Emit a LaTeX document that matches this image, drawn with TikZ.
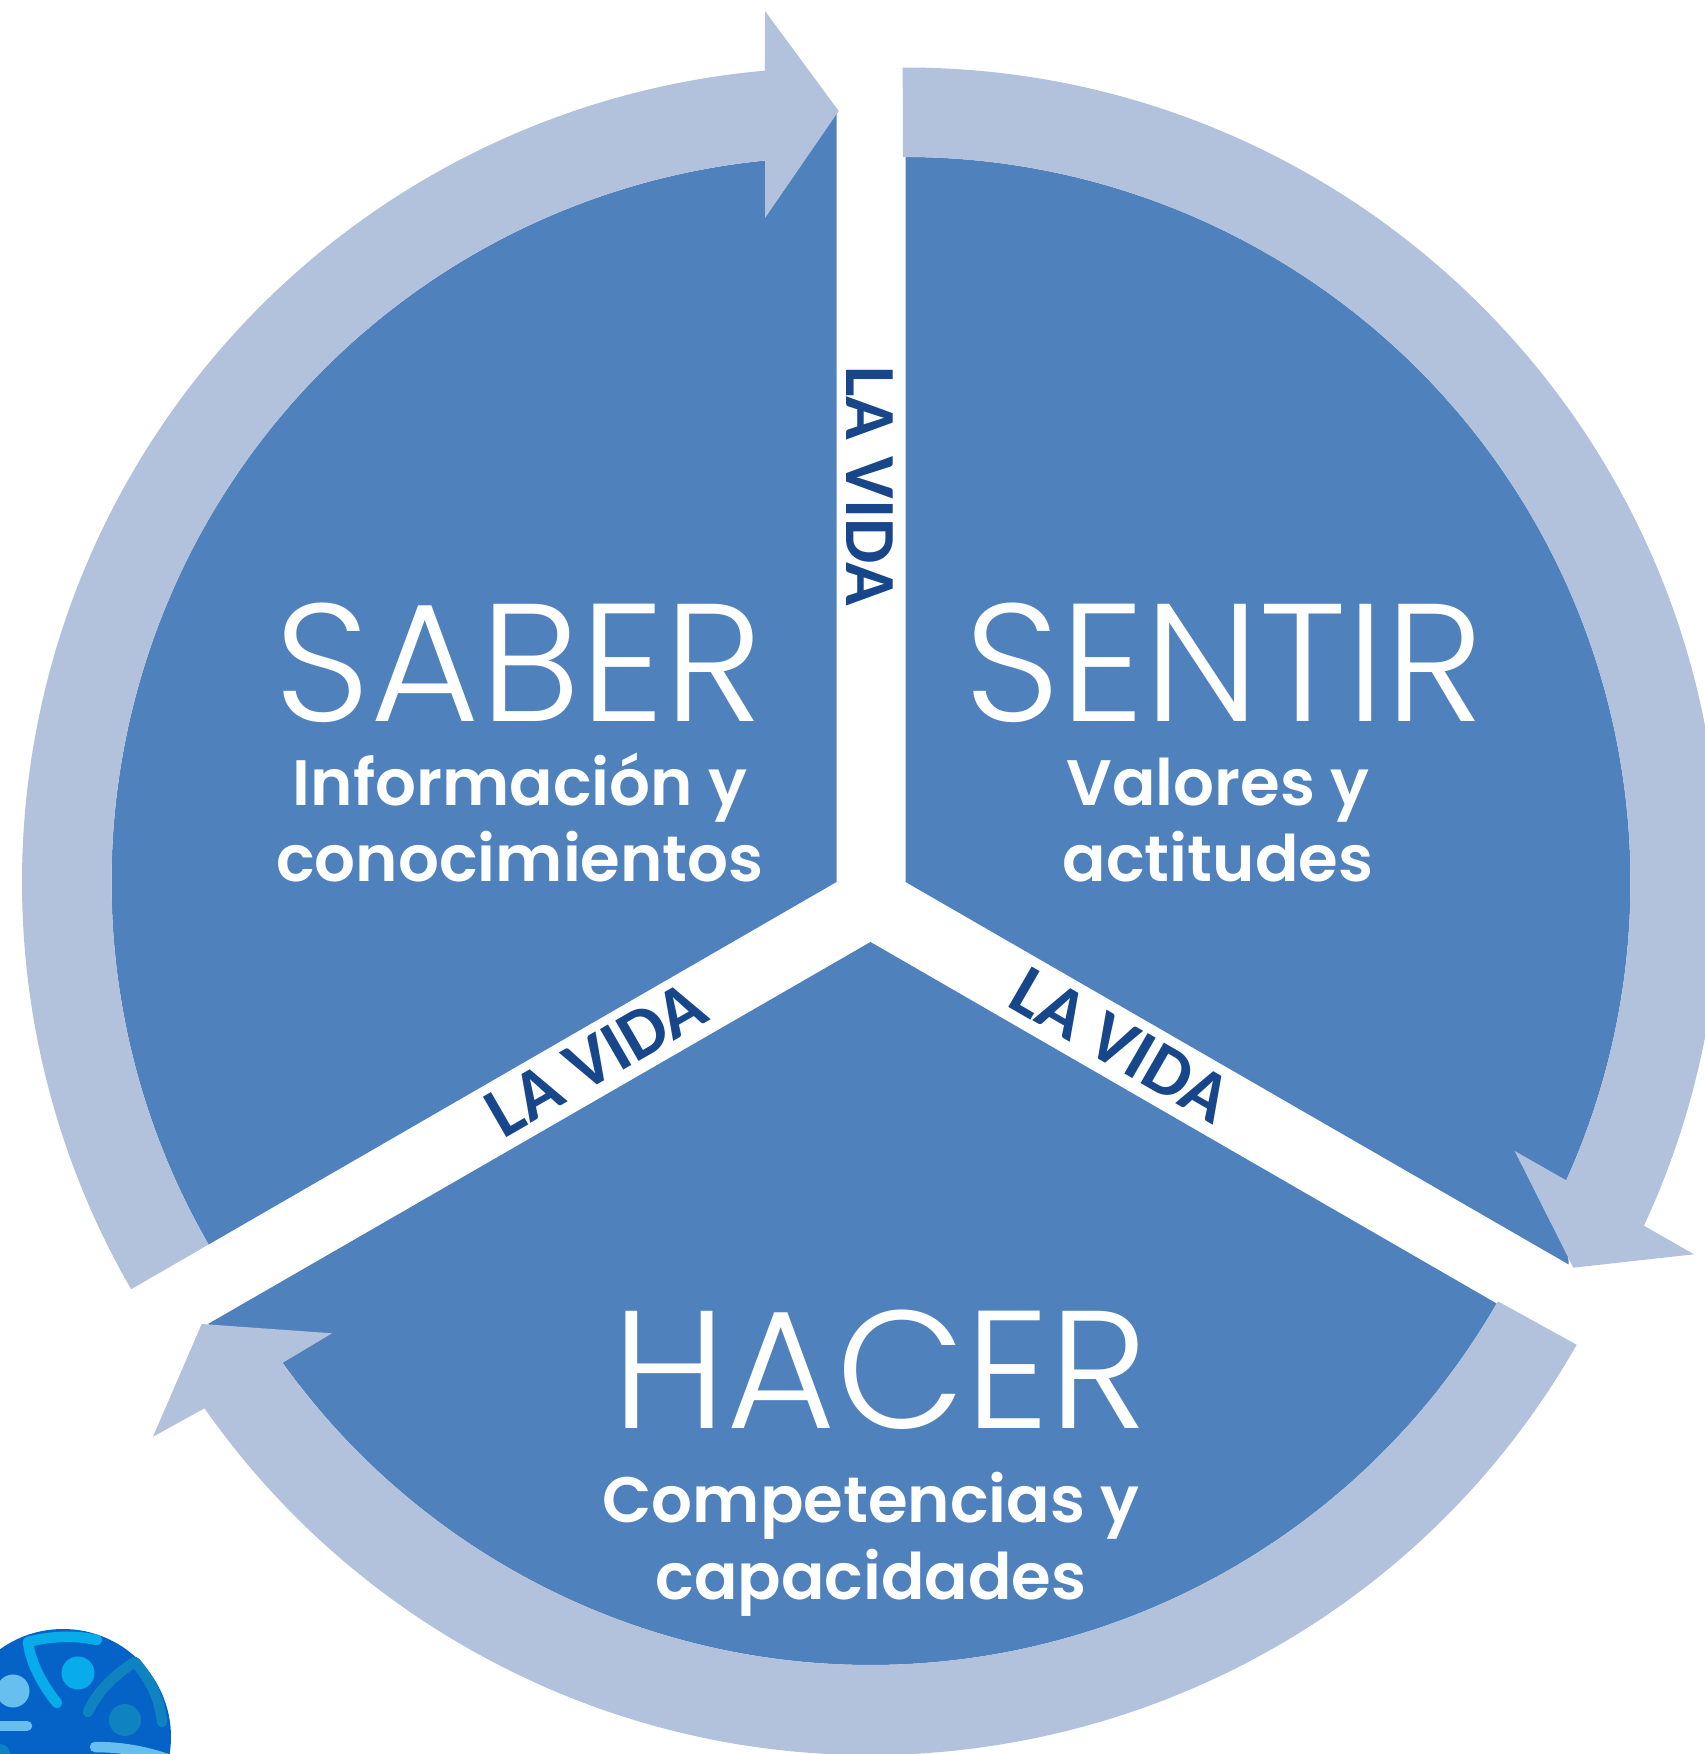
\documentclass[tikz,border=0pt]{standalone}
\usepackage{fontspec}
\setmainfont{Poppins}
\newfontfamily\popl{Poppins Light}
\newfontfamily\pops{Poppins SemiBold}
\newfontfamily\vida{Carlito}
\definecolor{wedge}{HTML}{4F81BD}
\definecolor{band}{HTML}{B2C1DC}
\definecolor{vidac}{HTML}{17478A}
\definecolor{logob}{HTML}{0563C8}
\definecolor{logoc}{HTML}{08ACEB}
\definecolor{logot}{HTML}{0F83C0}
\definecolor{logop}{HTML}{66BFEF}
\tikzset{
  sector/.style={fill=wedge,draw=none},
  ringarrow/.style={fill=band,draw=none},
  bigtext/.style={text=white,anchor=base,inner sep=0pt,font=\popl\fontsize{167.7}{167.7}\selectfont},
  subtext/.style={text=white,anchor=base,inner sep=0pt,font=\pops\fontsize{64.2}{64.2}\selectfont},
  lavida/.style={text=vidac,inner sep=0pt,font=\vida\bfseries\fontsize{72}{72}\selectfont},
  logoline/.style={line width=10.5pt,line cap=round,line join=round}
}
\begin{document}
\begin{tikzpicture}[x=1pt,y=1pt]
\useasboundingbox (0,0) rectangle (1705,1754);
\clip (0,0) rectangle (1705,1754);
\coordinate (cs) at (836.5,872);
\coordinate (ct) at (905.5,872);
\coordinate (ch) at (870.5,812);
% dark sectors
\fill[sector] (cs) -- ([shift={(cs)}]210:725) arc[start angle=210,end angle=95.65,radius=725] -- (836.5,1643) -- cycle;
\fill[sector] (ct) -- ([shift={(ct)}]90:725) arc[start angle=90,end angle=-24.6,radius=725] -- (1568.7,489.5) -- cycle;
\fill[sector] (ch) -- ([shift={(ch)}]-30:723) arc[start angle=-30,end angle=-144.4,radius=723] -- (208,430) -- cycle;
% ring arrows
\fill[ringarrow] ([shift={(cs)}]210:814.5) arc[start angle=210,end angle=95.04,radius=814.5]
  -- (765,1743) -- (838.7,1643) -- (765,1536)
  -- ([shift={(cs)}]95.65:725) arc[start angle=95.65,end angle=210,radius=725] -- cycle;
\fill[ringarrow] ([shift={(ct)}]90.2:814.5) arc[start angle=90.2,end angle=-24.96,radius=814.5]
  -- (1694,499.7) -- (1573.3,486.3) -- (1514.7,603)
  -- ([shift={(ct)}]-24.3:725) arc[start angle=-24.3,end angle=90.2,radius=725] -- cycle;
\fill[ringarrow] ([shift={(ch)}]-29.7:813) arc[start angle=-29.7,end angle=-145,radius=813]
  -- (153,317.3) -- (201.7,430) -- (332,420.7)
  -- ([shift={(ch)}]-144.4:723) arc[start angle=-144.4,end angle=-29.8,radius=723] -- cycle;
% logo
\fill[logob] (63,17) circle[radius=108];
\fill[logoc] (78,81) circle[radius=16.5];
\draw[logoline,logoc] (97,114) .. controls (75,119) and (50,118) .. (28,112) .. controls (31,90) and (42,70) .. (57,51);
\fill[logot] (125,34) circle[radius=16];
\fill[logot] (0,0) circle[radius=10];
\draw[logoline,logot] (88,42) .. controls (97,62) and (115,80) .. (135,92) .. controls (150,75) and (160,55) .. (162,32);
\fill[logop] (13,63) circle[radius=16.5];
\draw[logoline,logop] (0,28) -- (27,28);
\draw[logoline,logop] (95,7) .. controls (120,7) and (145,3) .. (170,-6);
% texts
\node[bigtext] (saber) at (519,1032) {SABER};
\node[bigtext] (sentir) at (1224,1032) {SENTIR};
\node[bigtext] (hacer) at (880.5,325) {HACER};
\node[subtext] (s1) at (520,948) {Información y};
\node[subtext] (s2) at (520,872) {conocimientos};
\node[subtext] (t1) at (1218,948) {Valores y};
\node[subtext] (t2) at (1218,872) {actitudes};
\node[subtext] (h1) at (871,231) {Competencias y};
\node[subtext] (h2) at (871,154) {capacidades};
\node[lavida,rotate=-90] (v1) at (870,1268) {LA VIDA};
\node[lavida,rotate=-30] (v2) at (1121,709) {LA VIDA};
\node[lavida,rotate=30] (v3) at (596,695) {LA VIDA};
\end{tikzpicture}
\end{document}
